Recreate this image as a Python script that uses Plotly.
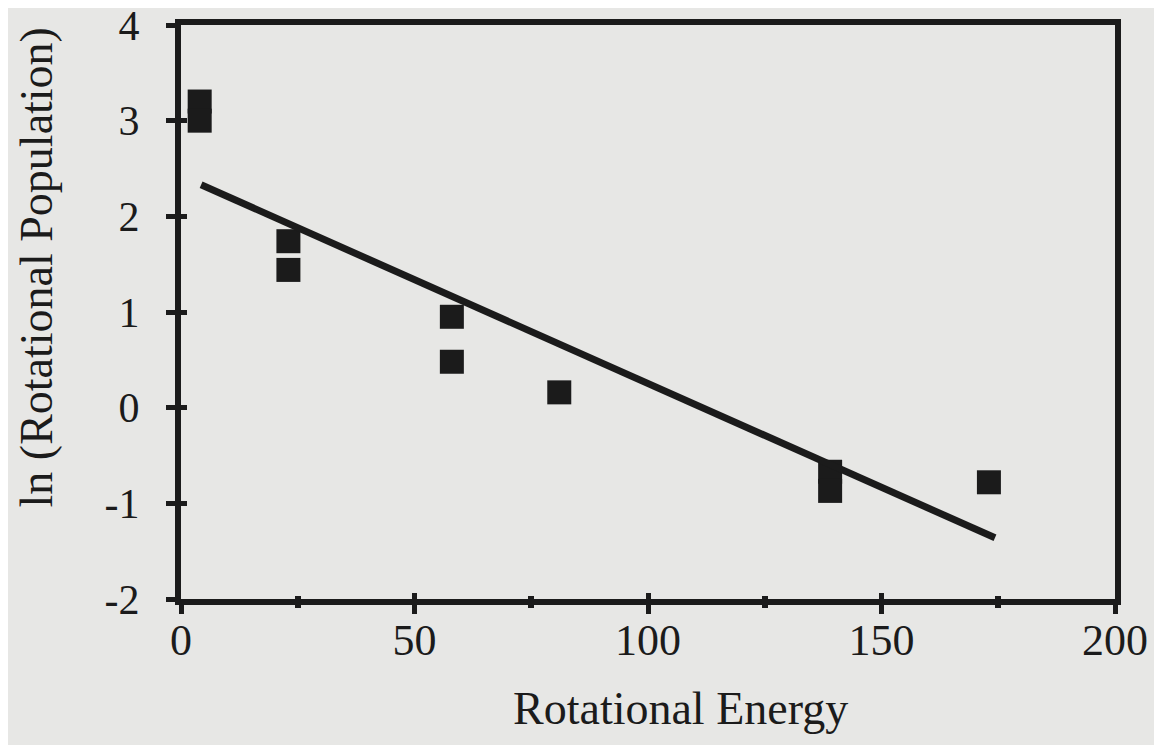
import plotly.graph_objects as go

# Data
energy = [4, 4, 23, 23, 58, 58, 81, 139, 139, 173]
ln_pop = [3.2, 3.0, 1.74, 1.44, 0.95, 0.48, 0.16, -0.67, -0.87, -0.78]

fit_energy = [4.3, 174.3]
fit_ln_pop = [2.33, -1.36]

x_ticks = [0, 50, 100, 150, 200]
x_labels = ["0", "50", "100", "150", "200"]
y_ticks = [-2, -1, 0, 1, 2, 3, 4]
y_labels = ["-2", "-1", "0", "1", "2", "3", "4"]
x_minor = [25, 75, 125, 175]

INK = "#1b1b1b"
BG = "#e7e7e5"
FONT = "Liberation Serif"

fig = go.Figure()
fig.add_trace(go.Scatter(
    x=fit_energy, y=fit_ln_pop, mode="lines",
    line=dict(color=INK, width=7), showlegend=False,
    xaxis="x2", yaxis="y2",
))
fig.add_trace(go.Scatter(
    x=energy, y=ln_pop, mode="markers",
    marker=dict(symbol="square", size=24, color=INK, line=dict(width=0)),
    showlegend=False, cliponaxis=False,
))

axis_common = dict(showgrid=False, zeroline=False, automargin=False)

fig.update_layout(
    width=1154, height=737,
    paper_bgcolor=BG, plot_bgcolor=BG,
    margin=dict(l=173, r=47, t=17, b=146),
    font=dict(family=FONT, color=INK, size=44),
    xaxis=dict(
        range=[0, 200], tickvals=x_ticks, ticktext=x_labels,
        ticks="outside", ticklen=9,
        tickwidth=5, tickcolor=INK, showline=True, linewidth=6, linecolor=INK,
        mirror=True, tickfont=dict(size=44, family=FONT, color=INK),
        ticklabelstandoff=-12, ticklabeloverflow="allow",
        minor=dict(tickvals=x_minor, ticks="outside", ticklen=3,
                   tickwidth=6, tickcolor=INK),
        **axis_common,
    ),
    yaxis=dict(
        range=[-2, 4], tickvals=y_ticks, ticktext=y_labels,
        ticks="outside", ticklen=9,
        tickwidth=5, tickcolor=INK, showline=True, linewidth=6, linecolor=INK,
        mirror=True, tickfont=dict(size=42, family=FONT, color=INK),
        ticklabelstandoff=18, ticklabeloverflow="allow",
        **axis_common,
    ),
    xaxis2=dict(
        range=[0, 200], overlaying="x", anchor="y2", tickvals=x_ticks,
        ticks="inside", ticklen=6, tickwidth=5, tickcolor=INK,
        showticklabels=False, showline=False, side="bottom",
        minor=dict(tickvals=x_minor, ticks="inside", ticklen=3,
                   tickwidth=6, tickcolor=INK),
        **axis_common,
    ),
    yaxis2=dict(
        range=[-2, 4], overlaying="y", anchor="x2", tickvals=y_ticks,
        ticks="inside", ticklen=6, tickwidth=5, tickcolor=INK,
        showticklabels=False, showline=False, side="left",
        **axis_common,
    ),
    annotations=[
        dict(text="Rotational Energy", xref="paper", yref="paper",
             x=0.535, y=-0.19, xanchor="center", yanchor="middle",
             showarrow=False, font=dict(size=46, family=FONT, color=INK)),
        dict(text="ln (Rotational Population)", xref="paper", yref="paper",
             x=-0.155, y=0.578, xanchor="center", yanchor="middle",
             textangle=-90, showarrow=False,
             font=dict(size=46, family=FONT, color=INK)),
    ],
)

fig.write_html("out.html")
